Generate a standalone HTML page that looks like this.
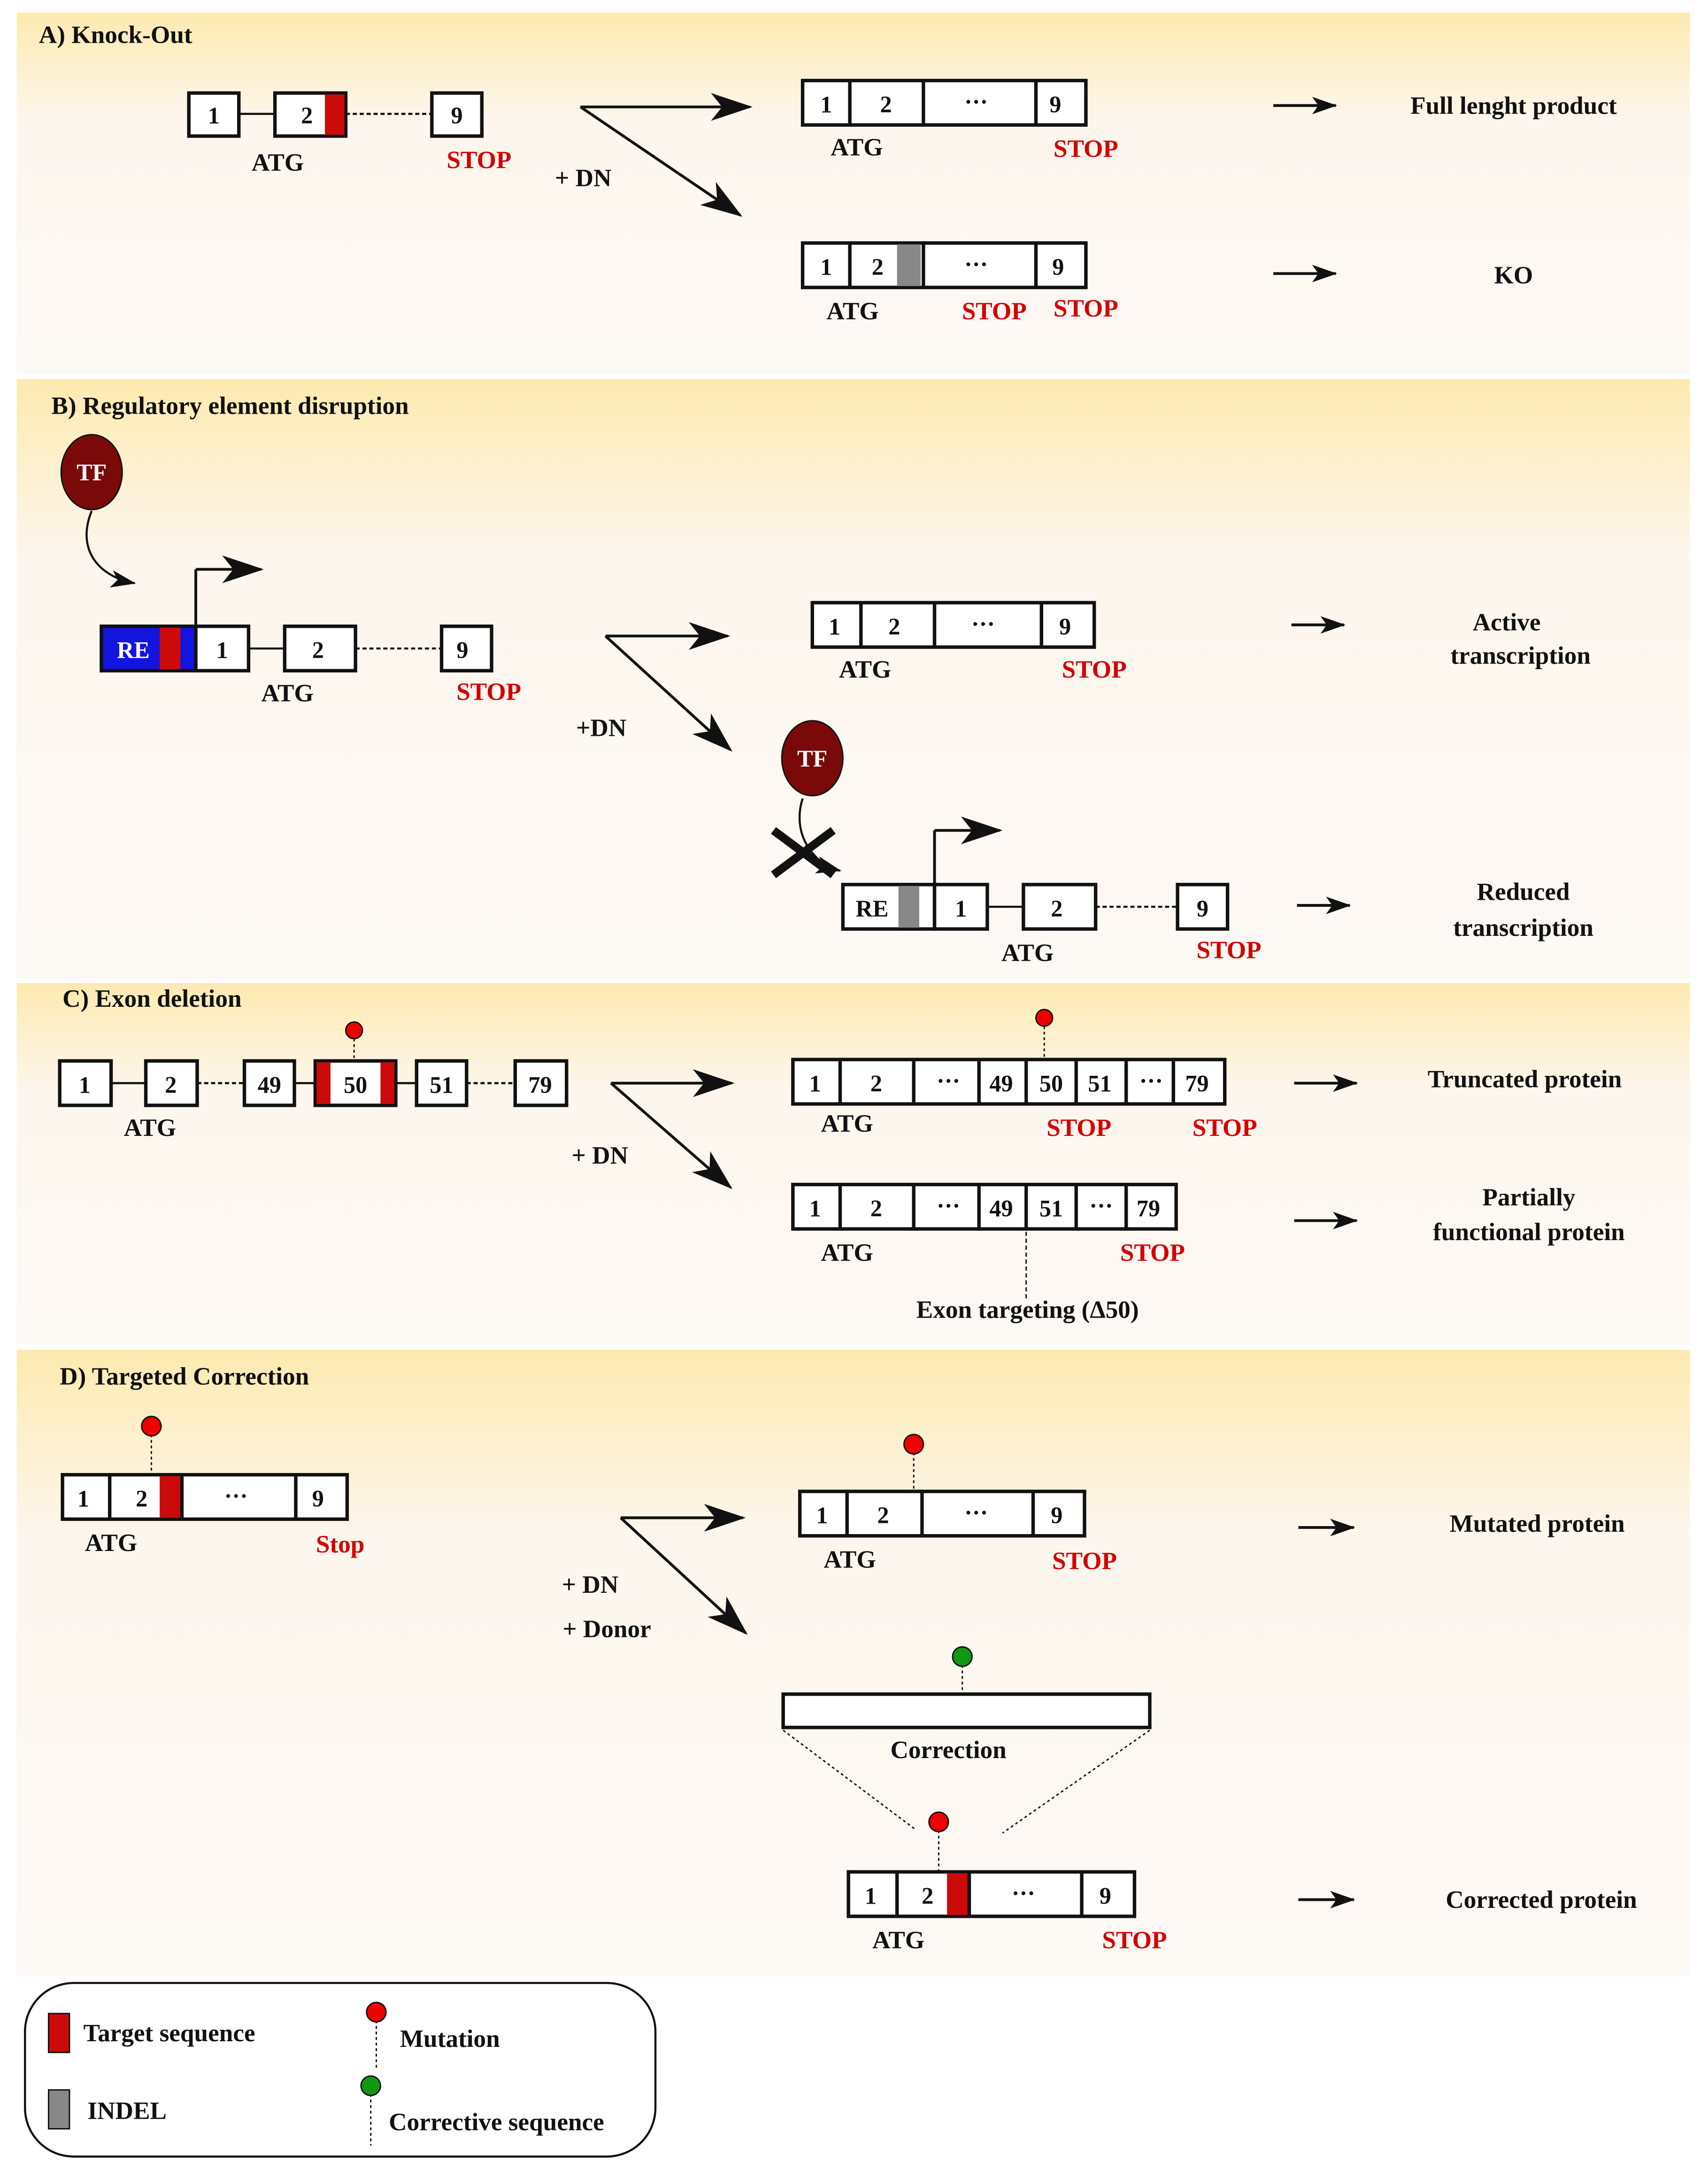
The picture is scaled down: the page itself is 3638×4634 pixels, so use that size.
<!DOCTYPE html>
<html><head><meta charset="utf-8"><style>
html,body{margin:0;padding:0;background:#fff}
svg{display:block}
text{font-family:"Liberation Serif",serif;font-weight:bold;fill:#111}
.r{fill:#d40000}
.l{font-size:18px}
.n{font-size:17px;text-anchor:middle}
.c{text-anchor:middle}
</style></head><body>
<svg width="3638" height="4634" viewBox="0 0 1230 1567" preserveAspectRatio="none" xmlns="http://www.w3.org/2000/svg">
<defs>
<linearGradient id="g" x1="0" y1="0" x2="0" y2="1">
<stop offset="0" stop-color="#fdeab0"/><stop offset="0.3" stop-color="#fdf6ee"/><stop offset="1" stop-color="#fdf9f5"/>
</linearGradient>
<marker id="a" viewBox="0 0 30 20" refX="28" refY="10" markerWidth="30" markerHeight="20" markerUnits="userSpaceOnUse" orient="auto">
<path d="M0,0 L30,10 L0,20 L8,10 Z" fill="#111"/></marker>
<marker id="s" viewBox="0 0 20 14" refX="19" refY="7" markerWidth="18" markerHeight="13" markerUnits="userSpaceOnUse" orient="auto">
<path d="M0,0 L20,7 L0,14 L5,7 Z" fill="#111"/></marker>
</defs>
<g stroke="none">
<rect x="12" y="9" width="1205" height="261" fill="url(#g)"/>
<rect x="12" y="273" width="1205" height="432" fill="url(#g)"/>
<rect x="12" y="708" width="1205" height="260" fill="url(#g)"/>
<rect x="12" y="972" width="1205" height="451" fill="url(#g)"/>
</g>
<g stroke="#111" stroke-width="2.5" fill="#fff">
<!-- A -->
<line x1="172" y1="82" x2="198" y2="82" stroke-width="1.5"/>
<line x1="249" y1="82" x2="311" y2="82" stroke-width="1.5" stroke-dasharray="3,2"/>
<rect x="136" y="67" width="36" height="31"/>
<rect x="198" y="67" width="51" height="31"/>
<rect x="234" y="68" width="14" height="29" fill="#cc0a0a" stroke="none"/>
<rect x="311" y="67" width="36" height="31"/>
<rect x="578" y="58" width="204" height="32"/>
<line x1="612" y1="58" x2="612" y2="90"/><line x1="665" y1="58" x2="665" y2="90"/><line x1="746" y1="58" x2="746" y2="90"/>
<rect x="578" y="175" width="204" height="32"/>
<rect x="646" y="176" width="17" height="30" fill="#888" stroke="none"/>
<line x1="612" y1="175" x2="612" y2="207"/><line x1="665" y1="175" x2="665" y2="207"/><line x1="746" y1="175" x2="746" y2="207"/>
<line x1="418" y1="77" x2="540" y2="77" stroke-width="2" marker-end="url(#a)"/>
<line x1="418" y1="77" x2="533" y2="155" stroke-width="2" marker-end="url(#a)"/>
<line x1="917" y1="76" x2="962" y2="76" stroke-width="2" marker-end="url(#s)"/>
<line x1="917" y1="197" x2="962" y2="197" stroke-width="2" marker-end="url(#s)"/>
<!-- B -->
<path d="M66,368 C55,395 70,415 97,420" fill="none" stroke-width="1.5" marker-end="url(#s)"/>
<line x1="141" y1="451" x2="141" y2="410" stroke-width="2"/>
<line x1="141" y1="410" x2="188" y2="410" stroke-width="2" marker-end="url(#a)"/>
<line x1="179" y1="467" x2="205" y2="467" stroke-width="1.5"/>
<line x1="256" y1="467" x2="318" y2="467" stroke-width="1.5" stroke-dasharray="3,2"/>
<rect x="73" y="451" width="68" height="32" fill="#1414e0"/>
<rect x="115" y="452" width="15" height="30" fill="#cc0a0a" stroke="none"/>
<rect x="141" y="451" width="38" height="32"/>
<rect x="205" y="451" width="51" height="32"/>
<rect x="318" y="451" width="36" height="32"/>
<line x1="436" y1="458" x2="524" y2="458" stroke-width="2" marker-end="url(#a)"/>
<line x1="436" y1="458" x2="526" y2="540" stroke-width="2" marker-end="url(#a)"/>
<rect x="585" y="434" width="203" height="32"/>
<line x1="620" y1="434" x2="620" y2="466"/><line x1="673" y1="434" x2="673" y2="466"/><line x1="750" y1="434" x2="750" y2="466"/>
<line x1="930" y1="450" x2="968" y2="450" stroke-width="2" marker-end="url(#s)"/>
<path d="M578,575 C570,600 585,622 605,627" fill="none" stroke-width="1.5" marker-end="url(#s)"/>
<line x1="673" y1="637" x2="673" y2="598" stroke-width="2"/>
<line x1="673" y1="598" x2="720" y2="598" stroke-width="2" marker-end="url(#a)"/>
<line x1="711" y1="653" x2="737" y2="653" stroke-width="1.5"/>
<line x1="789" y1="653" x2="848" y2="653" stroke-width="1.5" stroke-dasharray="3,2"/>
<rect x="607" y="637" width="66" height="32"/>
<rect x="647" y="638" width="15" height="30" fill="#888" stroke="none"/>
<rect x="673" y="637" width="38" height="32"/>
<rect x="737" y="637" width="52" height="32"/>
<rect x="848" y="637" width="36" height="32"/>
<line x1="934" y1="652" x2="972" y2="652" stroke-width="2" marker-end="url(#s)"/>
<line x1="557" y1="598" x2="600" y2="630" stroke-width="6"/>
<line x1="557" y1="630" x2="600" y2="598" stroke-width="6"/>
<!-- C -->
<line x1="80" y1="780" x2="105" y2="780" stroke-width="1.5"/>
<line x1="142" y1="780" x2="176" y2="780" stroke-width="1.5" stroke-dasharray="3,2"/>
<line x1="212" y1="780" x2="227" y2="780" stroke-width="1.5"/>
<line x1="285" y1="780" x2="300" y2="780" stroke-width="1.5"/>
<line x1="336" y1="780" x2="371" y2="780" stroke-width="1.5" stroke-dasharray="3,2"/>
<rect x="43" y="764" width="37" height="32"/>
<rect x="105" y="764" width="37" height="32"/>
<rect x="176" y="764" width="36" height="32"/>
<rect x="227" y="764" width="58" height="32"/>
<rect x="228" y="765" width="10" height="30" fill="#cc0a0a" stroke="none"/>
<rect x="274" y="765" width="10" height="30" fill="#cc0a0a" stroke="none"/>
<rect x="300" y="764" width="36" height="32"/>
<rect x="371" y="764" width="37" height="32"/>
<line x1="255" y1="748" x2="255" y2="764" stroke-width="1" stroke-dasharray="2,2"/>
<line x1="440" y1="780" x2="527" y2="780" stroke-width="2" marker-end="url(#a)"/>
<line x1="440" y1="780" x2="526" y2="855" stroke-width="2" marker-end="url(#a)"/>
<rect x="571" y="763" width="311" height="32"/>
<line x1="605" y1="763" x2="605" y2="795"/><line x1="658" y1="763" x2="658" y2="795"/><line x1="705" y1="763" x2="705" y2="795"/><line x1="739" y1="763" x2="739" y2="795"/><line x1="775" y1="763" x2="775" y2="795"/><line x1="811" y1="763" x2="811" y2="795"/><line x1="845" y1="763" x2="845" y2="795"/>
<line x1="752" y1="739" x2="752" y2="763" stroke-width="1" stroke-dasharray="2,2"/>
<rect x="571" y="853" width="276" height="32"/>
<line x1="605" y1="853" x2="605" y2="885"/><line x1="658" y1="853" x2="658" y2="885"/><line x1="705" y1="853" x2="705" y2="885"/><line x1="739" y1="853" x2="739" y2="885"/><line x1="775" y1="853" x2="775" y2="885"/><line x1="811" y1="853" x2="811" y2="885"/>
<line x1="739" y1="887" x2="739" y2="935" stroke-width="1" stroke-dasharray="3,2"/>
<line x1="932" y1="780" x2="977" y2="780" stroke-width="2" marker-end="url(#s)"/>
<line x1="932" y1="879" x2="977" y2="879" stroke-width="2" marker-end="url(#s)"/>
<!-- D -->
<line x1="109" y1="1033" x2="109" y2="1062" stroke-width="1" stroke-dasharray="2,2"/>
<rect x="45" y="1062" width="205" height="32"/>
<rect x="115" y="1063" width="16" height="30" fill="#cc0a0a" stroke="none"/>
<line x1="79" y1="1062" x2="79" y2="1094"/><line x1="131" y1="1062" x2="131" y2="1094"/><line x1="213" y1="1062" x2="213" y2="1094"/>
<line x1="447" y1="1093" x2="535" y2="1093" stroke-width="2" marker-end="url(#a)"/>
<line x1="447" y1="1093" x2="537" y2="1176" stroke-width="2" marker-end="url(#a)"/>
<line x1="658" y1="1046" x2="658" y2="1074" stroke-width="1" stroke-dasharray="2,2"/>
<rect x="576" y="1074" width="205" height="32"/>
<line x1="610" y1="1074" x2="610" y2="1106"/><line x1="664" y1="1074" x2="664" y2="1106"/><line x1="744" y1="1074" x2="744" y2="1106"/>
<line x1="935" y1="1100" x2="975" y2="1100" stroke-width="2" marker-end="url(#s)"/>
<line x1="693" y1="1199" x2="693" y2="1220" stroke-width="1" stroke-dasharray="2,2"/>
<rect x="564" y="1220" width="264" height="24"/>
<line x1="564" y1="1246" x2="660" y2="1318" stroke-width="1" stroke-dasharray="2,2"/>
<line x1="828" y1="1246" x2="722" y2="1320" stroke-width="1" stroke-dasharray="2,2"/>
<line x1="676" y1="1318" x2="676" y2="1348" stroke-width="1" stroke-dasharray="2,2"/>
<rect x="611" y="1348" width="206" height="32"/>
<rect x="682" y="1349" width="16" height="30" fill="#cc0a0a" stroke="none"/>
<line x1="646" y1="1348" x2="646" y2="1380"/><line x1="698" y1="1348" x2="698" y2="1380"/><line x1="779" y1="1348" x2="779" y2="1380"/>
<line x1="935" y1="1368" x2="975" y2="1368" stroke-width="2" marker-end="url(#s)"/>
<!-- legend -->
<rect x="18" y="1428" width="454" height="125" rx="35" stroke-width="1.5"/>
<rect x="35" y="1450" width="15" height="28" fill="#cc0a0a" stroke-width="1"/>
<rect x="35" y="1505" width="15" height="28" fill="#888" stroke-width="1"/>
<line x1="271" y1="1455" x2="271" y2="1490" stroke-width="1" stroke-dasharray="2,2"/>
<line x1="267" y1="1508" x2="267" y2="1545" stroke-width="1" stroke-dasharray="2,2"/>
</g>
<g stroke="#111" stroke-width="1">
<ellipse cx="66" cy="340" rx="22" ry="27" fill="#7a0a0a"/>
<ellipse cx="585" cy="546" rx="22" ry="27" fill="#7a0a0a"/>
<circle cx="255" cy="742" r="6" fill="#ee0000"/>
<circle cx="752" cy="733" r="6" fill="#ee0000"/>
<circle cx="109" cy="1027" r="7" fill="#ee0000"/>
<circle cx="658" cy="1040" r="7" fill="#ee0000"/>
<circle cx="693" cy="1193" r="7" fill="#119911"/>
<circle cx="676" cy="1312" r="7" fill="#ee0000"/>
<circle cx="271" cy="1449" r="7" fill="#ee0000"/>
<circle cx="267" cy="1502" r="7" fill="#119911"/>
</g>
<!-- text -->
<text x="28" y="31" class="l">A) Knock-Out</text>
<text x="154" y="89" class="n">1</text><text x="221" y="89" class="n">2</text><text x="329" y="89" class="n">9</text>
<text x="200" y="123" class="l c">ATG</text><text x="345" y="121" class="l c r">STOP</text>
<text x="420" y="134" class="l c">+ DN</text>
<text x="595" y="81" class="n">1</text><text x="638" y="81" class="n">2</text><text x="703" y="79" class="n">···</text><text x="760" y="81" class="n">9</text>
<text x="617" y="112" class="l c">ATG</text><text x="782" y="113" class="l c r">STOP</text>
<text x="595" y="198" class="n">1</text><text x="632" y="198" class="n">2</text><text x="703" y="196" class="n">···</text><text x="762" y="198" class="n">9</text>
<text x="614" y="230" class="l c">ATG</text><text x="716" y="230" class="l c r">STOP</text><text x="782" y="228" class="l c r">STOP</text>
<text x="1090" y="82" class="l c">Full lenght product</text>
<text x="1090" y="204" class="l c">KO</text>
<text x="37" y="298" class="l">B) Regulatory element disruption</text>
<text x="66" y="346" class="n" style="fill:#fff">TF</text>
<text x="96" y="474" class="n" style="fill:#fff">RE</text>
<text x="160" y="474" class="n">1</text><text x="229" y="474" class="n">2</text><text x="333" y="474" class="n">9</text>
<text x="207" y="505" class="l c">ATG</text><text x="352" y="504" class="l c r">STOP</text>
<text x="433" y="530" class="l c">+DN</text>
<text x="601" y="457" class="n">1</text><text x="644" y="457" class="n">2</text><text x="708" y="455" class="n">···</text><text x="767" y="457" class="n">9</text>
<text x="623" y="488" class="l c">ATG</text><text x="788" y="488" class="l c r">STOP</text>
<text x="1085" y="454" class="l c">Active</text><text x="1095" y="478" class="l c">transcription</text>
<text x="585" y="552" class="n" style="fill:#fff">TF</text>
<text x="628" y="660" class="n">RE</text>
<text x="692" y="660" class="n">1</text><text x="761" y="660" class="n">2</text><text x="866" y="660" class="n">9</text>
<text x="740" y="692" class="l c">ATG</text><text x="885" y="690" class="l c r">STOP</text>
<text x="1097" y="648" class="l c">Reduced</text><text x="1097" y="674" class="l c">transcription</text>
<text x="45" y="725" class="l">C) Exon deletion</text>
<text x="61" y="787" class="n">1</text><text x="123" y="787" class="n">2</text><text x="194" y="787" class="n">49</text><text x="256" y="787" class="n">50</text><text x="318" y="787" class="n">51</text><text x="389" y="787" class="n">79</text>
<text x="108" y="818" class="l c">ATG</text>
<text x="432" y="838" class="l c">+ DN</text>
<text x="587" y="786" class="n">1</text><text x="631" y="786" class="n">2</text><text x="683" y="784" class="n">···</text><text x="721" y="786" class="n">49</text><text x="757" y="786" class="n">50</text><text x="792" y="786" class="n">51</text><text x="829" y="784" class="n">···</text><text x="862" y="786" class="n">79</text>
<text x="610" y="815" class="l c">ATG</text><text x="777" y="818" class="l c r">STOP</text><text x="882" y="818" class="l c r">STOP</text>
<text x="1098" y="783" class="l c">Truncated protein</text>
<text x="587" y="876" class="n">1</text><text x="631" y="876" class="n">2</text><text x="683" y="874" class="n">···</text><text x="721" y="876" class="n">49</text><text x="757" y="876" class="n">51</text><text x="793" y="874" class="n">···</text><text x="827" y="876" class="n">79</text>
<text x="610" y="908" class="l c">ATG</text><text x="830" y="908" class="l c r">STOP</text>
<text x="740" y="949" class="l c">Exon targeting (Δ50)</text>
<text x="1101" y="868" class="l c">Partially</text><text x="1101" y="893" class="l c">functional protein</text>
<text x="43" y="997" class="l">D) Targeted Correction</text>
<text x="60" y="1085" class="n">1</text><text x="102" y="1085" class="n">2</text><text x="170" y="1083" class="n">···</text><text x="229" y="1085" class="n">9</text>
<text x="80" y="1117" class="l c">ATG</text><text x="245" y="1118" class="l c r">Stop</text>
<text x="425" y="1147" class="l c">+ DN</text><text x="437" y="1179" class="l c">+ Donor</text>
<text x="592" y="1097" class="n">1</text><text x="636" y="1097" class="n">2</text><text x="703" y="1095" class="n">···</text><text x="761" y="1097" class="n">9</text>
<text x="612" y="1129" class="l c">ATG</text><text x="781" y="1130" class="l c r">STOP</text>
<text x="1107" y="1103" class="l c">Mutated protein</text>
<text x="683" y="1266" class="l c">Correction</text>
<text x="627" y="1371" class="n">1</text><text x="668" y="1371" class="n">2</text><text x="737" y="1369" class="n">···</text><text x="796" y="1371" class="n">9</text>
<text x="647" y="1403" class="l c">ATG</text><text x="817" y="1403" class="l c r">STOP</text>
<text x="1110" y="1374" class="l c">Corrected protein</text>
<text x="60" y="1470" class="l">Target sequence</text>
<text x="63" y="1526" class="l">INDEL</text>
<text x="288" y="1474" class="l">Mutation</text>
<text x="280" y="1534" class="l">Corrective sequence</text>
</svg>
</body></html>
